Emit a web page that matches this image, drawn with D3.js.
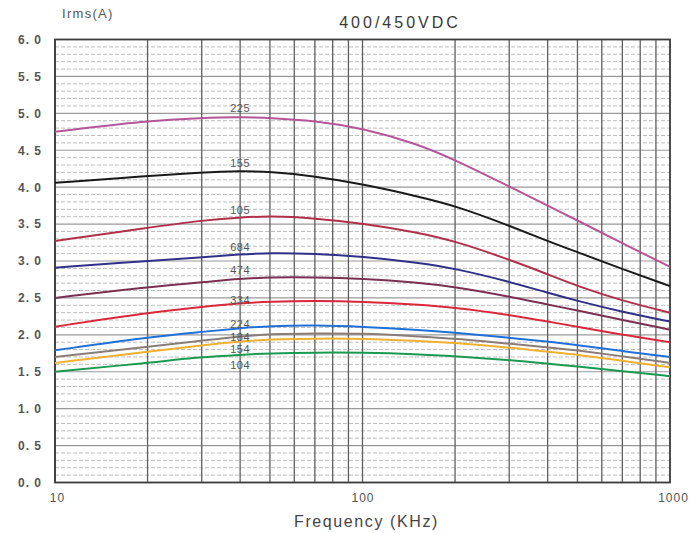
<!DOCTYPE html>
<html>
<head>
<meta charset="utf-8">
<script src="https://cdn.jsdelivr.net/npm/d3@7"></script>
<style>
  body { margin: 0; background: #fff; }
  text { font-family: "Liberation Sans", Arial, sans-serif; }
</style>
</head>
<body>
<div id="wrapper"></div>
<script>
const freqs = [10, 20, 30, 40, 50, 70, 100, 150, 200, 300, 400, 500, 700, 1000]

const seriesNames = ['225', '155', '105', '684', '474', '334', '224', '184', '154', '104']
const seriesColors = ['#b5559a', '#1a1a1a', '#b0304a', '#303088', '#7a3050', '#d8283a', '#2070d8', '#8a7d78', '#f0b030', '#1a9a50']

const s225 = [4.75, 4.90, 4.94, 4.95, 4.94, 4.90, 4.80, 4.59, 4.37, 4.01, 3.75, 3.55, 3.24, 2.92]
const s155 = [4.06, 4.15, 4.20, 4.22, 4.21, 4.15, 4.04, 3.88, 3.75, 3.48, 3.27, 3.12, 2.89, 2.66]
const s105 = [3.27, 3.45, 3.55, 3.59, 3.61, 3.58, 3.51, 3.39, 3.27, 3.02, 2.82, 2.66, 2.46, 2.30]
const s684 = [2.91, 3.00, 3.05, 3.09, 3.11, 3.10, 3.06, 2.98, 2.90, 2.72, 2.57, 2.46, 2.31, 2.18]
const s474 = [2.50, 2.65, 2.71, 2.76, 2.78, 2.78, 2.76, 2.71, 2.65, 2.52, 2.41, 2.33, 2.20, 2.07]
const s334 = [2.11, 2.30, 2.38, 2.43, 2.45, 2.46, 2.45, 2.41, 2.37, 2.27, 2.18, 2.11, 2.00, 1.90]
const s224 = [1.79, 1.97, 2.04, 2.09, 2.12, 2.13, 2.11, 2.07, 2.03, 1.96, 1.91, 1.86, 1.78, 1.70]
const s184 = [1.70, 1.84, 1.92, 1.98, 2.01, 2.02, 2.02, 1.98, 1.95, 1.88, 1.83, 1.79, 1.71, 1.62]
const s154 = [1.62, 1.77, 1.86, 1.91, 1.94, 1.95, 1.95, 1.92, 1.89, 1.83, 1.77, 1.73, 1.65, 1.56]
const s104 = [1.50, 1.62, 1.70, 1.73, 1.75, 1.76, 1.76, 1.74, 1.71, 1.66, 1.61, 1.57, 1.51, 1.44]
const seriesValues = [s225, s155, s105, s684, s474, s334, s224, s184, s154, s104]

// curve labels sit near 40 kHz, at these levels
const labelFreq = 40
const labelLevels = [5.07, 4.32, 3.69, 3.19, 2.87, 2.47, 2.15, 1.97, 1.81, 1.59]

const xTickValues = [10, 100, 1000]
const yTickValues = [0, 0.5, 1, 1.5, 2, 2.5, 3, 3.5, 4, 4.5, 5, 5.5, 6]
const yTickLabels = ['0. 0', '0. 5', '1. 0', '1. 5', '2. 0', '2. 5', '3. 0', '3. 5', '4. 0', '4. 5', '5. 0', '5. 5', '6. 0']

async function drawChart() {
  let dimensions = {
    width: 692,
    height: 533,
    margin: { top: 39.5, right: 22, bottom: 50.5, left: 55 }
  }
  dimensions.boundedWidth = dimensions.width - dimensions.margin.left - dimensions.margin.right
  dimensions.boundedHeight = dimensions.height - dimensions.margin.top - dimensions.margin.bottom

  const wrapper = d3.select('#wrapper')
    .append('svg')
      .attr('width', dimensions.width)
      .attr('height', dimensions.height)

  const bounds = wrapper.append('g')
    .attr('transform', `translate(${dimensions.margin.left}, ${dimensions.margin.top})`)

  const xScale = d3.scaleLog()
    .domain([10, 1000])
    .range([0, dimensions.boundedWidth])

  const yScale = d3.scaleLinear()
    .domain([0, 6])
    .range([dimensions.boundedHeight, 0])

  // minor dashed grid every 0.1
  const minorY = d3.range(0, 60).map(i => i / 10).filter(v => Math.round(v * 10) % 5 !== 0)
  bounds.append('g')
    .selectAll('line')
    .data(minorY)
    .join('line')
      .attr('x1', 0)
      .attr('x2', dimensions.boundedWidth)
      .attr('y1', d => yScale(d))
      .attr('y2', d => yScale(d))
      .attr('stroke', '#bdbdbd')
      .attr('stroke-width', 1)
      .attr('stroke-dasharray', '4,2')

  // solid grid every 0.5
  bounds.append('g')
    .selectAll('line')
    .data(yTickValues)
    .join('line')
      .attr('x1', 0)
      .attr('x2', dimensions.boundedWidth)
      .attr('y1', d => yScale(d))
      .attr('y2', d => yScale(d))
      .attr('stroke', '#9a9a9a')
      .attr('stroke-width', 1.2)

  // vertical log grid
  const xGrid = d3.range(1, 3).flatMap(e => d3.range(1, 10).map(m => m * Math.pow(10, e)))
  bounds.append('g')
    .selectAll('line')
    .data(xGrid)
    .join('line')
      .attr('x1', d => xScale(d))
      .attr('x2', d => xScale(d))
      .attr('y1', 0)
      .attr('y2', dimensions.boundedHeight)
      .attr('stroke', '#5e5e5e')
      .attr('stroke-width', 1.3)

  // frame
  bounds.append('rect')
    .attr('width', dimensions.boundedWidth)
    .attr('height', dimensions.boundedHeight)
    .attr('fill', 'none')
    .attr('stroke', '#3a3a3a')
    .attr('stroke-width', 1.8)

  // curves
  const lineGenerator = d3.line()
    .x(d => xScale(d[0]))
    .y(d => yScale(d[1]))
    .curve(d3.curveBasis)

  seriesValues.forEach((vals, i) => {
    bounds.append('path')
      .datum(freqs.map((f, j) => [f, vals[j]]))
      .attr('d', lineGenerator)
      .attr('fill', 'none')
      .attr('stroke', seriesColors[i])
      .attr('stroke-width', 2)
  })

  // curve labels
  bounds.append('g')
    .selectAll('text')
    .data(seriesNames)
    .join('text')
      .attr('x', xScale(labelFreq))
      .attr('y', (d, i) => yScale(labelLevels[i]))
      .attr('dy', '0.35em')
      .attr('text-anchor', 'middle')
      .attr('fill', '#555')
      .style('font-size', '11px')
      .style('letter-spacing', '0.5px')
      .text(d => d)

  // axes
  const yAxisGenerator = d3.axisLeft(yScale)
    .tickValues(yTickValues)
    .tickFormat((d, i) => yTickLabels[i])
    .tickSize(0)
    .tickPadding(13)

  const yAxis = bounds.append('g')
    .call(yAxisGenerator)
  yAxis.select('.domain').remove()
  yAxis.selectAll('text')
    .attr('fill', '#555')
    .style('font-size', '12px')
    .style('font-weight', 'bold')
    .style('letter-spacing', '1px')

  const xAxisGenerator = d3.axisBottom(xScale)
    .tickValues(xTickValues)
    .tickFormat(d3.format('d'))
    .tickSize(0)
    .tickPadding(11)

  const xAxis = bounds.append('g')
    .attr('transform', `translate(0, ${dimensions.boundedHeight})`)
    .call(xAxisGenerator)
  xAxis.select('.domain').remove()
  xAxis.selectAll('text')
    .attr('fill', '#555')
    .style('font-size', '12px')
    .style('letter-spacing', '1px')
  xAxis.selectAll('.tick').filter(d => d === 10).select('text').attr('dx', '2')
  xAxis.selectAll('.tick').filter(d => d === 1000).select('text').attr('dx', '3')

  wrapper.append('text')
    .attr('x', dimensions.margin.left + xScale(100) + 4)
    .attr('y', 527)
    .attr('text-anchor', 'middle')
    .attr('fill', '#444')
    .style('font-size', '16px')
    .style('letter-spacing', '1.6px')
    .text('Frequency (KHz)')

  wrapper.append('text')
    .attr('x', 62)
    .attr('y', 18)
    .attr('fill', '#555')
    .style('font-size', '13px')
    .style('letter-spacing', '1.3px')
    .text('Irms(A)')

  wrapper.append('text')
    .attr('x', 400)
    .attr('y', 28)
    .attr('text-anchor', 'middle')
    .attr('fill', '#3a3a3a')
    .style('font-size', '16px')
    .style('letter-spacing', '3px')
    .text('400/450VDC')
}

drawChart()
</script>
</body>
</html>
